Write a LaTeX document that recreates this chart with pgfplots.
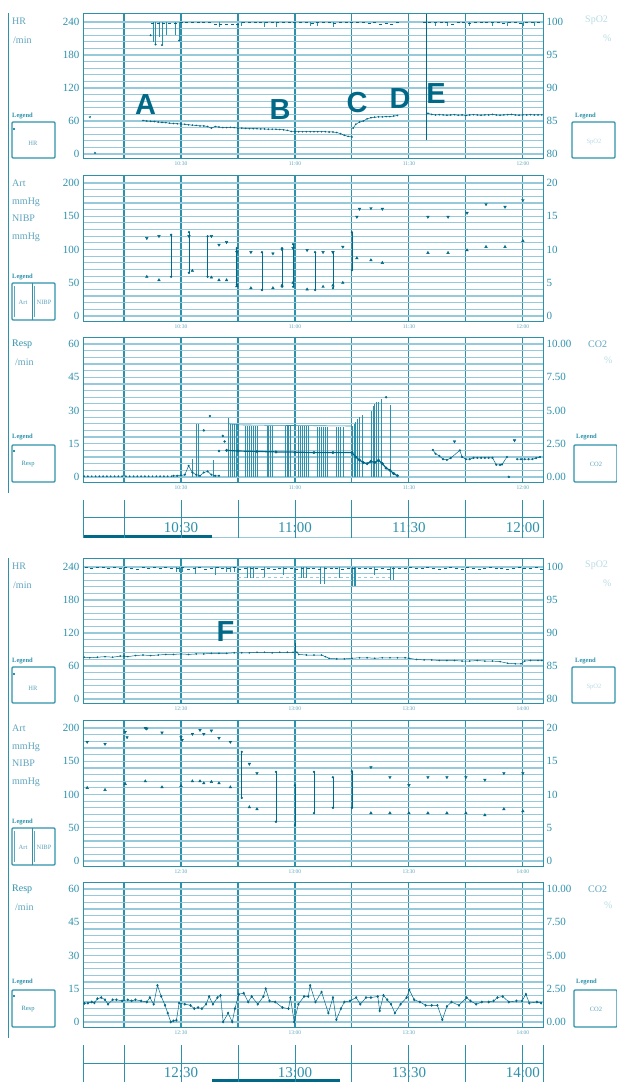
\documentclass[border=0pt]{standalone}
\usepackage{fontspec}
\setmainfont{Liberation Serif}
\newfontfamily\sansf{Liberation Sans}
\usepackage{pgfplots}
\pgfplotsset{compat=1.18}
\definecolor{tealD}{RGB}{0,105,135}
\definecolor{tealM}{RGB}{45,145,172}
\definecolor{tealL}{RGB}{150,202,218}
\definecolor{tealT}{RGB}{95,165,190}
\definecolor{tealF}{RGB}{185,220,230}
\pgfplotsset{
  base/.style={scale only axis, width=460pt, xmin=4.2, xmax=125.3,
    axis line style={tealM, line width=0.9pt},
    xtick={15,30,45,60,75,90,105,120},
    xmajorgrids, ymajorgrids, yminorgrids,
    major x grid style={tealM, line width=1.1pt},
    major y grid style={tealL, line width=1.3pt},
    minor y grid style={tealL, line width=1.2pt},
    tick style={draw=none},
    unbounded coords=jump,
    xticklabel style={font=\fontsize{5.5}{6}\selectfont, text=tealT},
    yticklabel style={font=\fontsize{11}{11}\selectfont, text=tealM},
    /pgf/number format/assume math mode=true},
  rightax/.style={scale only axis, width=460pt, xmin=4.2, xmax=125.3,
    axis x line=none, axis y line*=right, axis line style={draw=none},
    tick style={draw=none}, unbounded coords=jump,
    yticklabel style={font=\fontsize{11}{11}\selectfont, text=tealM},
    /pgf/number format/assume math mode=true},
  hrp/.style={tealD, line width=0.5pt, mark=*, mark size=0.55pt},
  bar/.style={tealD, line width=0.8pt},
  sys/.style={tealD, only marks, mark=triangle*, mark size=1.5pt, mark options={rotate=180}},
  dia/.style={tealD, only marks, mark=triangle*, mark size=1.5pt},
  tbar/.style={scale only axis, width=460pt, height=38pt, xmin=4.2, xmax=125.3, ymin=0, ymax=38, hide axis, clip=false},
}
\newcommand{\sidedeco}[1]{%
\begin{scope}[yshift=-#1pt]
 \draw[tealM, line width=0.8pt] (8pt,-13pt) -- (8pt,-493pt);
 \tikzset{lab/.style={anchor=west, inner sep=0pt, font=\fontsize{10}{10}\selectfont, text=tealT},
          leg/.style={anchor=west, inner sep=0pt, font=\bfseries\fontsize{6.5}{7}\selectfont, text=tealM},
          box/.style={draw=tealM, line width=1.3pt, rounded corners=1pt},
          inn/.style={inner sep=0pt, font=\fontsize{6.5}{7}\selectfont, text=tealT}}
 % HR
 \node[lab] at (12pt,-21pt) {HR};
 \node[lab] at (13pt,-40pt) {/min};
 \node[leg] at (12pt,-116pt) {Legend};
 \draw[box] (12pt,-122pt) rectangle (55pt,-158pt);
 \node[inn] at (33pt,-143pt) {HR};
 \fill[tealM] (12.5pt,-128pt) rectangle (14.5pt,-130pt);
 \node[lab, text=tealF] at (585pt,-20pt) {SpO2};
 \node[lab, text=tealF] at (603pt,-38pt) {\%};
 \node[leg] at (575pt,-116pt) {Legend};
 \draw[box] (572pt,-122pt) rectangle (615pt,-158pt);
 \node[inn, text=tealF] at (594pt,-142pt) {SpO2};
 % BP
 \node[lab] at (12pt,-183pt) {Art};
 \node[lab] at (12pt,-202pt) {mmHg};
 \node[lab] at (12pt,-218pt) {NIBP};
 \node[lab] at (12pt,-237pt) {mmHg};
 \node[leg] at (12pt,-277pt) {Legend};
 \draw[box] (12pt,-283pt) rectangle (55pt,-320pt);
 \draw[tealM, line width=0.8pt] (32pt,-283pt) -- (32pt,-320pt);
 \draw[tealT, line width=0.5pt] (14pt,-286pt) -- (14pt,-317pt);
 \draw[tealT, line width=0.5pt] (34pt,-286pt) -- (34pt,-317pt);
 \node[inn] at (23pt,-302pt) {Art};
 \node[inn] at (44pt,-302pt) {NIBP};
 % Resp
 \node[lab, text=tealM] at (12pt,-344pt) {Resp};
 \node[lab] at (15pt,-362pt) {/min};
 \node[leg] at (12pt,-437pt) {Legend};
 \draw[box] (12pt,-445pt) rectangle (55pt,-482pt);
 \node[inn, text=tealM] at (28pt,-464pt) {Resp};
 \fill[tealM] (12.5pt,-450pt) rectangle (14.5pt,-452pt);
 \node[lab, text=tealT] at (588pt,-344pt) {CO2};
 \node[lab, text=tealF] at (604pt,-360pt) {\%};
 \node[leg] at (576pt,-437pt) {Legend};
 \draw[box] (574pt,-445pt) rectangle (617pt,-482pt);
 \node[inn] at (596pt,-464pt) {CO2};
\end{scope}}
\begin{document}
\begin{tikzpicture}
\useasboundingbox (0pt,0pt) rectangle (616pt,-1082pt);
\fill[white] (0pt,0pt) rectangle (616pt,-1082pt);
\sidedeco{0}
\sidedeco{545}

%================ BLOCK 1 =================
% HR / SpO2
\begin{axis}[base, at={(83pt,-13pt)}, anchor=north west, height=145pt,
  ymin=-7.3, ymax=256.4, ytick={0,60,...,240}, minor y tick num=4,
  xticklabels={,10:30,,11:00,,11:30,,12:00}]
\addplot[hrp] coordinates {(20,61)(21,60)(22,59.5)(23,59)(24,58)(25,57.5)(26,57)(27,56)(28,55.5)(29,55)(30,54.5)(31,54)(32,53)(33,52.5)(34,52)(35,51)(36,51)(37,50)(38,47)(39,50)(40,49)(41,48)(42,48)(43,48.5)(44,48)(45,47)(46,47)(47,46.5)(48,46)(49,46)(50,46)(51,45.5)(52,45.5)(53,45)(54,45)(55,45)(56,44.5)(57,44)(58,43)(59,41)(60,40.5)(61,40.5)(62,40.5)(63,40.5)(64,40.5)(65,40.5)(66,40.5)(67,40.5)(68,40.5)(69,40)(70,40)(71,39)(72,37)(73,34)(74,32)(75,31)};
\addplot[hrp] coordinates {(75.3,47)(76,54)(77,58)(78,60)(79,64)(80,66)(81,67)(82,67.5)(83,67.5)(84,68)(85,68)(86,69)(87,70)};
\addplot[hrp] coordinates {(95,74)(96,72)(97,71)(98,71.5)(99,71)(100,70.5)(101,71)(102,71.5)(103,70.5)(104,71)(105,70)(106,71)(107,71.5)(108,71)(109,70.5)(110,71)(111,71)(112,72)(113,71)(114,70.5)(115,71)(116,71.5)(117,72)(118,71)(119,70.5)(120,71)(121,71)(122,71.5)(123,71)(124,71)(125,71)};
\addplot[tealD, only marks, mark=x, mark size=1.3pt] coordinates {(6,67)(7.4,2)};
\addplot[bar] coordinates {(94.7,254)(94.7,25)};
\end{axis}
\begin{axis}[rightax, at={(83pt,-13pt)}, anchor=north west, height=145pt,
  ymin=79.39, ymax=101.37, ytick={80,85,...,100}]
\addplot[tealD, only marks, mark=-, mark size=1.5pt] coordinates {(22.6,99.8)(24,99.8)(25.5,99.8)(27,99.8)(28.5,99.8)(30,100)(31.5,100)(33,99.9)(34.5,100)(36,99.9)(37.5,100)(39,99.7)(40.5,99.7)(42,99.7)(43.5,99.7)(45,99.7)(46.5,100)(48,100)(49.5,100)(51,99.9)(52.5,100)(54,99.9)(55.5,100)(57,99.9)(58.5,99.9)(60,100)(61.5,99.9)(63,100)(64.5,99.8)(66,100)(67.5,99.9)(69,99.9)(70.5,99.8)(72,100)(73.5,99.9)(75,99.9)(76.5,100)(78,99.9)(79.5,99.8)(81,99.9)(82.5,99.7)(84,99.8)(85.5,99.6)(87,99.9)(94,100)(95.5,100)(97,99.9)(98.5,100)(100,99.9)(101.5,99.7)(103,100)(104.5,100)(106,99.8)(107.5,100)(109,99.9)(110.5,100)(112,100)(113.5,99.9)(115,99.8)(116.5,100)(118,99.9)(119.5,99.8)(121,100)(122.5,99.9)(124,100)};
\addplot[tealM, line width=0.6pt] coordinates {(22.6,100)(22.6,97)(22.6,nan)(23.3,100)(23.3,96.6)(23.3,nan)(24.2,100)(24.2,97.8)(24.2,nan)(25,100)(25,96.5)(25,nan)(26,100)(26,98)(26,nan)(28.5,100)(28.5,98)(28.5,nan)(29.5,100)(29.5,97.2)(29.5,nan)(30.1,100)(30.1,99.2)(30.1,nan)(40,100)(40,99.3)(40,nan)(46,100)(46,99.4)(46,nan)(52,100)(52,99.3)(52,nan)(55,100)(55,99.3)(55,nan)(64,100)(64,99.4)(64,nan)(66,100)(66,99.4)(66,nan)(70,100)(70,99.3)(70,nan)(97,100)(97,99.4)(97,nan)(100,100)(100,99.4)(100,nan)(106,100)(106,99.4)(106,nan)(112,100)(112,99.4)(112,nan)(116,100)(116,99.4)(116,nan)(120,100)(120,99.4)(120,nan)(123,100)(123,99.4)};
\addplot[tealD, only marks, mark=*, mark size=0.8pt] coordinates {(22,98)(23.3,96.6)(25,96.5)(29.5,97.2)};
\end{axis}
% BP
\begin{axis}[base, at={(83pt,-175pt)}, anchor=north west, height=146pt,
  ymin=-7.5, ymax=212, ytick={0,50,...,200}, minor y tick num=4,
  xticklabels={,10:30,,11:00,,11:30,,12:00}]
\addplot[bar, mark=*, mark size=0.7pt] coordinates {(27.4,122)(27.4,59)(27.4,nan)(32.1,126)(32.1,65)(32.1,nan)(37,120)(37,59)(37,nan)(44.7,102)(44.7,47)(44.7,nan)(51.3,96)(51.3,39)(51.3,nan)(56.6,102)(56.6,44)(56.6,nan)(59.5,108)(59.5,44)(59.5,nan)(65.3,96)(65.3,39)(65.3,nan)(70,96)(70,42)(70,nan)(75,126)(75,69)};
\addplot[sys] coordinates {(21,117)(24.2,120)(32.1,120)(38,120)(40,107)(42,111)(44.7,96)(48.4,96)(54.2,94)(56.6,100)(59.5,102)(63.2,99)(67.4,96)(70,96)(72.6,104)(76.3,149)(77,161)(80,162)(83,161)(95,149)(100.3,149)(105.3,155)(110.3,168)(115.3,164)(120,174)};
\addplot[dia] coordinates {(21,59)(24.2,54)(33,68)(38,58)(40,54)(42,54)(44.7,45)(48.4,42)(54.2,42)(56.6,46)(59.5,50)(63.2,40)(67.4,44)(70,46)(72.6,50)(76.3,87)(80,84)(83,80)(95,95)(100.3,95)(105.3,99)(110.3,104)(115.3,104)(120,113)};
\end{axis}
\begin{axis}[rightax, at={(83pt,-175pt)}, anchor=north west, height=146pt,
  ymin=-0.75, ymax=21.2, ytick={0,5,...,20}]
\end{axis}
% Resp / CO2
\begin{axis}[base, at={(83pt,-337pt)}, anchor=north west, height=145pt,
  ymin=-2.3, ymax=63.2, ytick={0,15,...,60}, minor y tick num=4,
  xticklabels={,10:30,,11:00,,11:30,,12:00}]
\addplot[tealD, only marks, mark=*, mark size=0.7pt] coordinates {(4.5,0.3)(5.5,0.3)(6.5,0.3)(7.5,0.3)(8.5,0.3)(9.5,0.3)(10.5,0.3)(11.5,0.3)(12.5,0.3)(13.5,0.3)(14.5,0.3)(15.5,0.3)(16.5,0.3)(17.5,0.3)(18.5,0.3)(19.5,0.3)(20.5,0.3)(21.5,0.3)(22.5,0.3)(23.5,0.3)(24.5,0.3)(25.5,0.3)(26.5,0.3)(27.5,0.3)};
\addplot[tealM, line width=0.6pt] coordinates {(33,0)(33,8)(33,nan)(34,0)(34,24)(34,nan)(34.6,0)(34.6,24)(34.6,nan)(38.4,0)(38.4,7.6)(38.4,nan)(42.4,0)(42.4,26.6)(42.4,nan)(43,0)(43,24)(43,nan)(43.5,0)(43.5,24)(43.5,nan)(44,0)(44,24)(44,nan)(44.5,0)(44.5,24)(44.5,nan)(45,0)(45,24)(45,nan)(47,0)(47,23)(47,nan)(47.5,0)(47.5,23)(47.5,nan)(48,0)(48,23)(48,nan)(48.5,0)(48.5,23)(48.5,nan)(49,0)(49,23)(49,nan)(49.5,0)(49.5,23)(49.5,nan)(50,0)(50,23)(50,nan)(52.6,0)(52.6,23)(52.6,nan)(53.1,0)(53.1,23)(53.1,nan)(53.6,0)(53.6,23)(53.6,nan)(54,0)(54,23)(54,nan)(57.4,0)(57.4,23)(57.4,nan)(57.9,0)(57.9,23)(57.9,nan)(58.3,0)(58.3,23)(58.3,nan)(58.7,0)(58.7,23)(58.7,nan)(61,0)(61,23)(61,nan)(61.5,0)(61.5,23)(61.5,nan)(62,0)(62,23)(62,nan)(62.5,0)(62.5,23)(62.5,nan)(63,0)(63,23)(63,nan)(63.5,0)(63.5,23)(63.5,nan)(66,0)(66,22.5)(66,nan)(66.5,0)(66.5,22.5)(66.5,nan)(67,0)(67,22.5)(67,nan)(67.5,0)(67.5,22.5)(67.5,nan)(68,0)(68,22.5)(68,nan)(68.6,0)(68.6,22.5)(68.6,nan)(71,0)(71,22.5)(71,nan)(71.5,0)(71.5,22.5)(71.5,nan)(72,0)(72,22.5)(72,nan)(72.7,0)(72.7,22.5)(72.7,nan)(75,0)(75,23)(75,nan)(75.5,0)(75.5,24)(75.5,nan)(76,0)(76,25)(76,nan)(76.5,0)(76.5,26)(76.5,nan)(77,0)(77,27)(77,nan)(77.6,0)(77.6,28)(77.6,nan)(80,0)(80,30)(80,nan)(80.5,0)(80.5,32)(80.5,nan)(81,0)(81,33)(81,nan)(81.5,0)(81.5,34)(81.5,nan)(82,0)(82,34)(82,nan)(82.6,0)(82.6,35)(82.6,nan)(85,0)(85,32.5)};
\addplot[tealM, line width=0.6pt] coordinates {(42.4,24)(45,23.5)(60,23.2)(75,23)};
\addplot[hrp, mark size=0.8pt] coordinates {(28,0.5)(29,0.5)(30,0.6)(31,1)(32,5)(33,2)(34,1)(35,0.5)(36,2)(37,2.5)(38,1)(39,0.5)(40,0.5)};
\addplot[tealD, only marks, mark=*, mark size=1pt] coordinates {(36,21)(37.6,27.5)(40,11.7)(41,18.5)(41.5,16)(84,36)(116.3,0)};
\addplot[tealD, line width=1.2pt, mark=*, mark size=0.8pt] coordinates {(42,12)(45,11.7)(50,11.5)(55,11.3)(60,11.2)(65,11)(70,11)(75,11)(76,9)(77,7.6)(78,6.5)(79,6)(80,7)(81,6.5)(82,7.5)(83,6)(84,4)(85,3)(86,1.5)(87,0.5)};
\addplot[hrp, mark size=0.8pt] coordinates {(96.3,12.2)(97,10.5)(98,9.5)(99,8)(100,7.7)(101,8.5)(103.4,12)(104,9)(105,8)(106,8)(107,8.6)(108,8.6)(109,8.6)(110,8.6)(111,8.6)(112,8.6)(113,5.5)(114,5.4)(114.5,5.6)(115.8,9)};
\addplot[hrp, mark size=0.8pt] coordinates {(118.5,8)(119.5,8)(120.5,8)(121.5,8)(122.5,8)(123.5,8.5)(124.5,9)};
\addplot[sys] coordinates {(102,16)(117.8,16.5)};
\end{axis}
\begin{axis}[rightax, at={(83pt,-337pt)}, anchor=north west, height=145pt,
  ymin=-0.383, ymax=10.53, ytick={0,2.5,5,7.5,10}, yticklabels={0.00,2.50,5.00,7.50,10.00}]
\end{axis}
% time bar 1
\begin{axis}[tbar, at={(83pt,-538pt)}, anchor=south west]
\draw[tealL, line width=1pt] (4.2,0.5) -- (125.3,0.5);
\draw[tealD, line width=3pt] (4.2,1.5) -- (38.2,1.5);
\draw[tealM, line width=0.9pt] (4.2,21) -- (125.3,21);
\node[font=\fontsize{15}{15}\selectfont, text=tealM] at (30,10.5) {10:30};
\node[font=\fontsize{15}{15}\selectfont, text=tealM] at (60,10.5) {11:00};
\node[font=\fontsize{15}{15}\selectfont, text=tealM] at (90,10.5) {11:30};
\node[font=\fontsize{15}{15}\selectfont, text=tealM] at (120,10.5) {12:00};
\pgfplotsinvokeforeach{4.2,15,30,45,60,75,90,105,120,125.3}{\draw[tealM, line width=0.9pt] (#1,0) -- (#1,38);}
\end{axis}

%================ BLOCK 2 =================
\begin{axis}[base, at={(83pt,-558pt)}, anchor=north west, height=145pt,
  ymin=-7.3, ymax=256.4, ytick={0,60,...,240}, minor y tick num=4,
  xticklabels={,12:30,,13:00,,13:30,,14:00}]
\addplot[hrp] coordinates {(4.5,76)(6,75)(8,76)(10,77)(12,76)(14,78)(15,78)(16,77)(18,79)(20,80)(22,79)(24,80)(26,81)(28,81)(30,82)(32,81)(34,82)(36,82)(38,83)(40,83)(42,83)(44,84)(46,84)(48,84)(50,85)(52,85)(54,84)(56,85)(58,85)(59.5,85)(60.5,85)(61,81)(63,80)(65,80)(67,80)(68,77)(69,74)(71,73)(73,73)(75,74)(77,75)(79,75)(81,74)(83,75)(85,75)(87,75)(89,75)(90,74)(92,72)(94,71)(96,71)(98,70)(100,70)(102,70)(104,69)(106,69)(108,70)(110,69)(112,69)(114,68)(116,65)(118,64)(119.5,64)(120.5,69)(122,70)(124,70)(125,70)};
\addplot[bar] coordinates {(60,85)(60,102)};
\end{axis}
\begin{axis}[rightax, at={(83pt,-558pt)}, anchor=north west, height=145pt,
  ymin=79.39, ymax=101.37, ytick={80,85,...,100}]
\addplot[tealD, only marks, mark=-, mark size=1.5pt] coordinates {(5,100)(6.5,99.9)(8,100)(9.5,100)(11,99.9)(12.5,100)(14,99.8)(15.5,100)(17,99.9)(18.5,99.7)(20,100)(21.5,99.9)(23,100)(24.5,99.9)(26,100)(27.5,99.8)(29,99.9)(30.5,100)(32,99.7)(33.5,99.9)(35,100)(36.5,99.7)(38,99.9)(39.5,100)(41,99.8)(42.5,99.9)(44,100)(45.5,99.6)(47,99.9)(48.5,99.8)(50,99.9)(51.5,99.6)(53,99.9)(54.5,99.7)(56,99.9)(57.5,99.8)(59,99.9)(60.5,99.7)(62,99.9)(63.5,99.8)(65,99.9)(66.5,99.6)(68,99.9)(69.5,99.8)(71,99.9)(72.5,99.6)(74,99.9)(75.5,99.8)(77,99.9)(78.5,99.8)(80,99.9)(81.5,99.6)(83,99.9)(84.5,99.7)(86,99.9)(87.5,99.8)(89,99.9)(90.5,100)(92,99.9)(93.5,99.8)(95,100)(96.5,99.9)(98,99.7)(99.5,99.9)(101,100)(102.5,99.9)(104,99.7)(105.5,100)(107,99.9)(108.5,99.6)(110,99.9)(111.5,100)(113,99.8)(114.5,99.9)(116,99.7)(117.5,99.9)(119,100)(120.5,99.8)(122,99.9)(123.5,100)(125,99.7)};
\addplot[tealL, line width=0.6pt, dashed] coordinates {(45,98.5)(85,98.5)};
\addplot[tealM, line width=0.6pt] coordinates {(28.7,100)(28.7,99.2)(28.7,nan)(29.5,100)(29.5,99.2)(29.5,nan)(30.3,100)(30.3,99.2)(30.3,nan)(33.7,100)(33.7,99)(33.7,nan)(39,100)(39,98.8)(39,nan)(42,100)(42,99.3)(42,nan)(43,100)(43,99.3)(43,nan)(44,100)(44,99.3)(44,nan)(47.5,100)(47.5,98.3)(47.5,nan)(48.2,100)(48.2,98.3)(48.2,nan)(49,100)(49,98.3)(49,nan)(52,100)(52,98.5)(52,nan)(57,100)(57,98.8)(57,nan)(61.6,100)(61.6,98.3)(61.6,nan)(62.3,100)(62.3,98.3)(62.3,nan)(63,100)(63,98.3)(63,nan)(66.8,100)(66.8,97.5)(66.8,nan)(67.6,100)(67.6,97.5)(67.6,nan)(71.8,100)(71.8,98.3)(71.8,nan)(75,100)(75,97.2)(75,nan)(75.5,100)(75.5,97.2)(75.5,nan)(76,100)(76,97.2)(76,nan)(81,100)(81,98.8)(81,nan)(85,100)(85,98)(85,nan)(86,100)(86,98)};
\end{axis}
% BP 2
\begin{axis}[base, at={(83pt,-720pt)}, anchor=north west, height=146pt,
  ymin=-7.5, ymax=212, ytick={0,50,...,200}, minor y tick num=4,
  xticklabels={,12:30,,13:00,,13:30,,14:00}]
\addplot[bar, mark=*, mark size=0.7pt] coordinates {(46,164)(46,95)(46,nan)(55,134)(55,59)(55,nan)(60,114)(60,54)(60,nan)(65,134)(65,72)(65,nan)(70,126)(70,80)(70,nan)(75,135)(75,80)};
\addplot[sys] coordinates {(5.3,179)(10,176)(15.3,194)(15.8,186)(20.6,200)(21,199)(25,193)(30,186)(30.3,182)(33,191)(35,197)(36,191)(38,196)(40,185)(43,179)(48,146)(50,132)(80,141)(85,126)(90,114)(95,126)(100,126)(105,126)(110,122)(115,132)(120,132)};
\addplot[dia] coordinates {(5.3,110)(10,107)(15.3,116)(20.6,120)(25,111)(30,113)(33,120)(35,120)(36,117)(38,119)(40,117)(43,111)(48,81)(50,78)(80,72)(85,72)(90,72)(95,72)(100,72)(105,72)(110,69)(115,78)(120,75)};
\end{axis}
\begin{axis}[rightax, at={(83pt,-720pt)}, anchor=north west, height=146pt,
  ymin=-0.75, ymax=21.2, ytick={0,5,...,20}]
\end{axis}
% Resp 2
\begin{axis}[base, at={(83pt,-882pt)}, anchor=north west, height=145pt,
  ymin=-2.3, ymax=63.2, ytick={0,15,...,60}, minor y tick num=4,
  xticklabels={,12:30,,13:00,,13:30,,14:00}]
\addplot[hrp, mark=diamond*, mark size=1.1pt] coordinates {(4.6,8.4)(5.5,8.5)(6.5,9)(7.2,8.6)(8,10.5)(9,11)(10,10)(10.8,8)(12,10)(13,10)(14.5,9.5)(16,10)(17,9.5)(18,10)(19.5,9.5)(21,9)(21.8,11)(22.8,8)(23.8,16.5)(24.8,11.5)(25.8,7.5)(26.5,4)(27.3,0)(28,0.5)(28.8,0.8)(29.5,8.5)(31,8)(32.5,7.5)(33.5,6)(34.5,6.5)(35.5,6)(36.6,8)(37.4,11.5)(38.4,8)(39.6,11)(40.4,12)(41.1,0)(42.4,4)(43.5,0)(44.2,6)(45.2,12.5)(46.5,13)(47.7,9)(48.6,11.5)(50.2,8)(51.7,11.5)(52.3,15)(53.3,9.5)(54.8,9)(56.7,6.5)(58.3,6)(58.8,11)(59.8,0)(60.9,8)(62.4,11.5)(63.5,11.5)(64,16.5)(65.4,9)(67,13.5)(68.8,4)(70,11)(70.9,1)(72.1,6)(73,9)(74.5,9.5)(76.1,11)(77.2,8)(78.7,11)(80,11)(81.8,11.5)(82.3,5)(83.3,12)(84.3,10)(85.3,8)(86.3,4)(87.8,8)(89.4,11)(90.1,14.5)(91.4,10)(92.9,9)(94.4,7.5)(96,7.5)(97.5,7.5)(98.8,1)(100,7)(101.2,9)(103.2,7.5)(105.2,11)(106.2,9.5)(107.7,8)(109.2,9)(111,9)(112.3,9.5)(113.3,11)(114.7,11.5)(116.3,9)(118.3,9.5)(119.8,9.5)(120.8,12.5)(121.7,8.5)(123.7,9)(124.8,8.5)};
\end{axis}
\begin{axis}[rightax, at={(83pt,-882pt)}, anchor=north west, height=145pt,
  ymin=-0.383, ymax=10.53, ytick={0,2.5,5,7.5,10}, yticklabels={0.00,2.50,5.00,7.50,10.00}]
\end{axis}
% time bar 2
\begin{axis}[tbar, at={(83pt,-1083pt)}, anchor=south west]
\draw[tealL, line width=1pt] (4.2,0.5) -- (125.3,0.5);
\draw[tealD, line width=3pt] (38.2,2.5) -- (71.8,2.5);
\draw[tealM, line width=0.9pt] (4.2,20) -- (125.3,20);
\node[font=\fontsize{15}{15}\selectfont, text=tealM] at (30,10) {12:30};
\node[font=\fontsize{15}{15}\selectfont, text=tealM] at (60,10) {13:00};
\node[font=\fontsize{15}{15}\selectfont, text=tealM] at (90,10) {13:30};
\node[font=\fontsize{15}{15}\selectfont, text=tealM] at (120,10) {14:00};
\pgfplotsinvokeforeach{4.2,15,30,45,60,75,90,105,120,125.3}{\draw[tealM, line width=0.9pt] (#1,0) -- (#1,38);}
\end{axis}

% annotation letters
\tikzset{big/.style={font=\sansf\bfseries\fontsize{29}{29}\selectfont, text=tealD, inner sep=0pt}}
\node[big] at (145.5pt,-104.5pt) {A};
\node[big] at (280pt,-110pt) {B};
\node[big] at (357pt,-103pt) {C};
\node[big] at (400pt,-99pt) {D};
\node[big] at (436pt,-93.5pt) {E};
\node[big] at (225.5pt,-632pt) {F};
\end{tikzpicture}
\end{document}
